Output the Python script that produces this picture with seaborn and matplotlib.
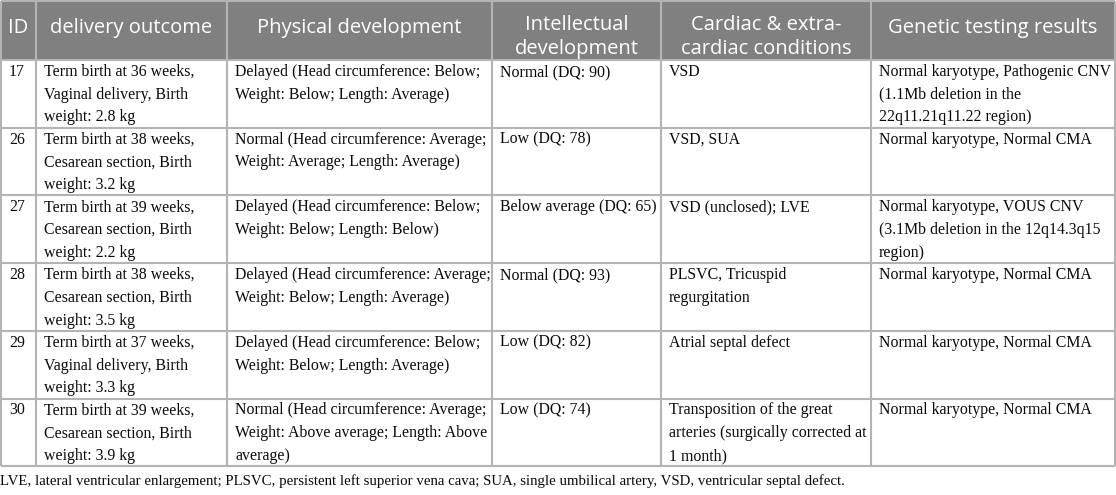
import matplotlib
matplotlib.use('Agg')
import matplotlib.pyplot as plt
import seaborn as sns

# Table content
headers = ['ID', 'delivery outcome', 'Physical development', 'Intellectual\ndevelopment',
           'Cardiac & extra-\ncardiac conditions', 'Genetic testing results']
ids = ['17', '26', '27', '28', '29', '30']
delivery = [
    'Term birth at 36 weeks,\nVaginal delivery, Birth\nweight: 2.8 kg',
    'Term birth at 38 weeks,\nCesarean section, Birth\nweight: 3.2 kg',
    'Term birth at 39 weeks,\nCesarean section, Birth\nweight: 2.2 kg',
    'Term birth at 38 weeks,\nCesarean section, Birth\nweight: 3.5 kg',
    'Term birth at 37 weeks,\nVaginal delivery, Birth\nweight: 3.3 kg',
    'Term birth at 39 weeks,\nCesarean section, Birth\nweight: 3.9 kg',
]
physical = [
    'Delayed (Head circumference: Below;\nWeight: Below; Length: Average)',
    'Normal (Head circumference: Average;\nWeight: Average; Length: Average)',
    'Delayed (Head circumference: Below;\nWeight: Below; Length: Below)',
    'Delayed (Head circumference: Average;\nWeight: Below; Length: Average)',
    'Delayed (Head circumference: Below;\nWeight: Below; Length: Average)',
    'Normal (Head circumference: Average;\nWeight: Above average; Length: Above\naverage)',
]
intellectual = ['Normal (DQ: 90)', 'Low (DQ: 78)', 'Below average (DQ: 65)',
                'Normal (DQ: 93)', 'Low (DQ: 82)', 'Low (DQ: 74)']
cardiac = ['VSD', 'VSD, SUA', 'VSD (unclosed); LVE', 'PLSVC, Tricuspid\nregurgitation',
           'Atrial septal defect',
           'Transposition of the great\narteries (surgically corrected at\n1 month)']
genetic = [
    'Normal karyotype, Pathogenic CNV\n(1.1Mb deletion in the\n22q11.21q11.22 region)',
    'Normal karyotype, Normal CMA',
    'Normal karyotype, VOUS CNV\n(3.1Mb deletion in the 12q14.3q15\nregion)',
    'Normal karyotype, Normal CMA',
    'Normal karyotype, Normal CMA',
    'Normal karyotype, Normal CMA',
]
footnote = ('LVE, lateral ventricular enlargement; PLSVC, persistent left superior vena cava; '
            'SUA, single umbilical artery, VSD, ventricular septal defect.')

# Layout (pixels)
col_edges = [1, 36, 227, 492, 661, 871, 1115]
header_h = 60
row_h = 67.7

sns.set_theme(style='white')
fig = plt.figure(figsize=(11.16, 4.95), dpi=100)
ax = fig.add_axes([0, 0, 1, 1])
ax.set_xlim(0, 1116)
ax.set_ylim(495, 0)
ax.axis('off')

grid_color = '#b4b4b4'
head_color = '#808080'
table_bottom = header_h + row_h * len(ids)

ax.fill_between([col_edges[0], col_edges[-1]], 1, header_h, color=head_color, lw=0)

columns = [ids, delivery, physical, intellectual, cardiac, genetic]
for c, h in enumerate(headers):
    xc = (col_edges[c] + col_edges[c + 1]) / 2
    yc = 37 if '\n' in h else 28
    ax.text(xc, yc, h, ha='center', va='center', color='white',
            fontsize=14.5, family='Open Sans', linespacing=1.25)

for r in range(len(ids)):
    top = header_h + r * row_h
    for c, col in enumerate(columns):
        ax.text(col_edges[c] + 8, top + 4, col[r], ha='left', va='top', color='#0a0a0a',
                fontsize=11.45, family='Liberation Serif', linespacing=1.56)

# grid lines
ax.hlines([1], col_edges[0], col_edges[-1], color=grid_color, lw=1.5)
ax.hlines([header_h + r * row_h for r in range(len(ids) + 1)], col_edges[0], col_edges[-1],
          color=grid_color, lw=1.5)
ax.vlines(col_edges, 1, table_bottom, color=grid_color, lw=1.5)

ax.text(0, 481, footnote, ha='left', va='center', color='#0a0a0a',
        fontsize=10.75, family='Liberation Serif')

fig.savefig('out.png', dpi=100)
